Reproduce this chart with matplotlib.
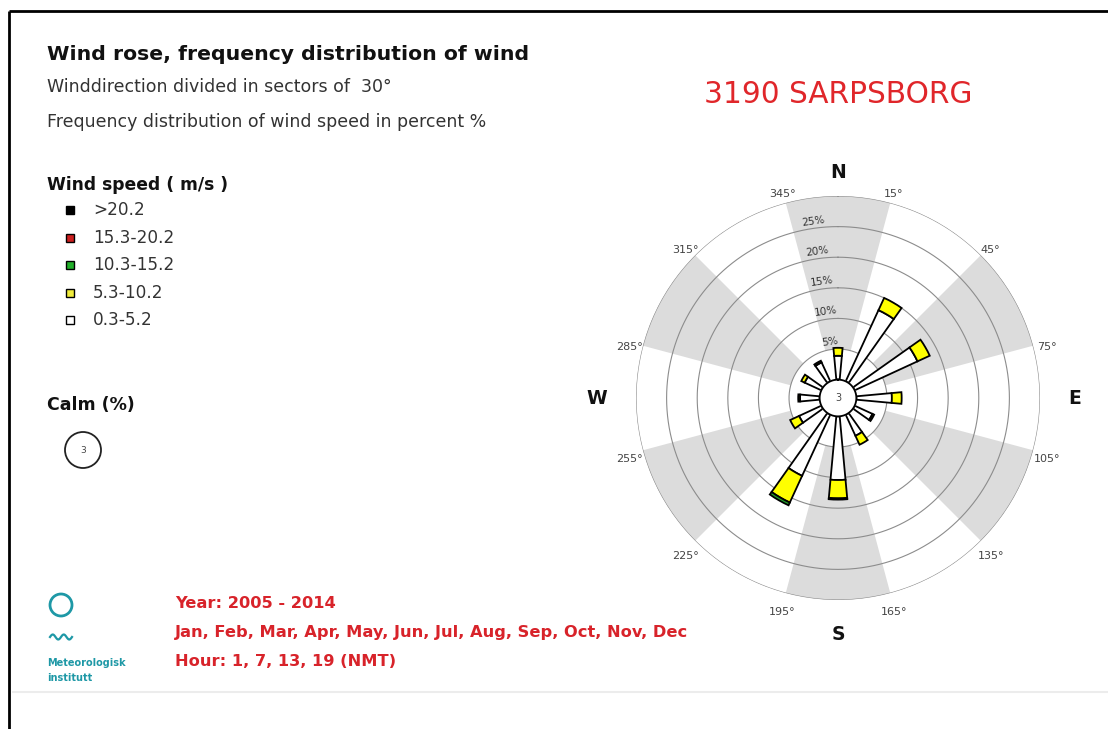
import numpy as np
import matplotlib
matplotlib.use("Agg")
import matplotlib.pyplot as plt
from matplotlib.patches import Circle, Rectangle

# wind rose data (percent), sectors of 30 degrees
directions = [0, 30, 60, 90, 120, 150, 180, 210, 240, 270, 300, 330]
speed_0_5 = [3.9, 12.8, 11.3, 5.8, 3.2, 3.8, 10.4, 11.0, 4.0, 3.2, 3.0, 3.4]
speed_5_10 = [1.3, 2.2, 2.2, 1.6, 0.3, 1.6, 3.0, 4.8, 1.6, 0.3, 0.6, 0.3]
speed_10_15 = [0, 0, 0, 0, 0, 0, 0.2, 0.5, 0, 0, 0, 0]
speed_15_20 = [0] * 12
speed_20 = [0] * 12
calm = 3

classes = [">20.2", "15.3-20.2", "10.3-15.2", "5.3-10.2", "0.3-5.2"]
class_colors = ["#000000", "#cc1f1f", "#22b02a", "#f0ec3c", "#ffffff"]
bar_colors = ["#ffffff", "#ffff00", "#22a02a", "#cc1f1f", "#000000"]
rings = [5, 10, 15, 20, 25]
rmax = 30
boundaries = [15, 45, 75, 105, 135, 165, 195, 225, 255, 285, 315, 345]
compass = ["N", "E", "S", "W"]
compass_r = [36.9, 38.7, 38.6, 39.4]

W, H = 1108, 729
fig = plt.figure(figsize=(W / 100, H / 100), dpi=100)
fig.patch.set_facecolor("white")

# full-figure canvas in pixel coordinates for texts and decorations
cv = fig.add_axes([0, 0, 1, 1])
cv.set_xlim(0, W)
cv.set_ylim(H, 0)
cv.axis("off")

cv.plot([9, W], [11, 11], color="black", lw=2, solid_capstyle="butt")
cv.plot([9, 9], [11, H], color="black", lw=2, solid_capstyle="butt")
cv.plot([13, W], [692, 692], color="#ececec", lw=1.5)

cv.text(47, 60, "Wind rose, frequency distribution of wind", fontsize=14.7,
        fontweight="bold", color="#111111")
cv.text(47, 92, "Winddirection divided in sectors of  30°", fontsize=12.5,
        color="#333333")
cv.text(47, 127, "Frequency distribution of wind speed in percent %",
        fontsize=12.5, color="#333333")
cv.text(704, 103, "3190 SARPSBORG", fontsize=21.3, color="#e0262a")

cv.text(47, 190, "Wind speed ( m/s )", fontsize=12.3, fontweight="bold",
        color="#111111")
for i, (lab, col) in enumerate(zip(classes, class_colors)):
    y = 210 + i * 27.5
    cv.add_patch(Rectangle((66, y - 4), 8, 8, facecolor=col,
                           edgecolor="black", lw=1))
    cv.text(93, y, lab, fontsize=12.2, color="#333333", va="center")

cv.text(47, 410, "Calm (%)", fontsize=12.5, fontweight="bold", color="#111111")
cv.add_patch(Circle((83, 450), 18, facecolor="white", edgecolor="#222222", lw=1.3))
cv.text(83, 450, str(calm), fontsize=6.5, color="#444444", ha="center", va="center")

# logo
teal = "#1e98a6"
cv.add_patch(Circle((61, 605), 11, facecolor="none", edgecolor=teal, lw=2))
wx = np.linspace(50, 72, 40)
cv.plot(wx, 637 - 2.5 * np.sin((wx - 50) / 22 * 4 * np.pi), color=teal, lw=1.6)
cv.text(47, 663, "Meteorologisk", fontsize=7, fontweight="bold", color=teal, va="center")
cv.text(47, 678, "institutt", fontsize=7, fontweight="bold", color=teal, va="center")

red_font = dict(fontsize=11.7, fontweight="bold", color="#d8232a", va="center")
cv.text(175, 603, "Year: 2005 - 2014", **red_font)
cv.text(175, 632, "Jan, Feb, Mar, Apr, May, Jun, Jul, Aug, Sep, Oct, Nov, Dec", **red_font)
cv.text(175, 661, "Hour: 1, 7, 13, 19 (NMT)", **red_font)

# polar rose, radius offset by the calm value
cx, cy, R = 838, 398, 202
ax = fig.add_axes([(cx - R) / W, (H - cy - R) / H, 2 * R / W, 2 * R / H],
                  projection="polar")
ax.set_theta_zero_location("N")
ax.set_theta_direction(-1)
ax.set_ylim(0, rmax + calm)
ax.set_xticks([])
ax.set_yticks([])
ax.grid(False)
ax.spines["polar"].set_visible(False)
ax.patch.set_alpha(0)

sec = np.radians(np.arange(0, 360, 60))
ax.bar(sec, rmax - 5, width=np.radians(30), bottom=calm + 5,
       color="#dcdcdc", lw=0, zorder=0.5)
circ = np.linspace(0, 2 * np.pi, 361)
for r in rings + [rmax]:
    ax.plot(circ, np.full_like(circ, r + calm), color="#8c8c8c", lw=0.8, zorder=1)

theta = np.radians(directions)
bottom = np.full(12, float(calm))
for vals, col in zip([speed_0_5, speed_5_10, speed_10_15, speed_15_20, speed_20],
                     bar_colors):
    vals = np.array(vals, dtype=float)
    m = vals > 0
    ax.bar(theta[m], vals[m], width=np.radians(10.5), bottom=bottom[m], color=col,
           edgecolor="black", lw=1.3, zorder=3)
    bottom += vals

ax.fill(circ, np.full_like(circ, calm), color="white", zorder=4)
ax.plot(circ, np.full_like(circ, calm), color="black", lw=1.3, zorder=5)
ax.text(0, 0, str(calm), fontsize=7, color="#444444", ha="center", va="center", zorder=6)

for r in rings:
    ax.text(np.radians(-8), r + calm + 1.2, f"{r}%", fontsize=7.5, color="#333333",
            ha="center", va="center", rotation=8, zorder=2)

# sector boundary labels, placed around the rose slightly below centre
for b in boundaries:
    a = np.radians(b)
    cv.text(cx + 216 * np.sin(a), cy + 5 - 216 * np.cos(a), f"{b}°", fontsize=8,
            color="#444444", ha="center", va="center")
for i, c in enumerate(compass):
    ax.text(np.radians(i * 90), compass_r[i], c, fontsize=13.5, fontweight="bold",
            color="#111111", ha="center", va="center", clip_on=False)

fig.savefig("out.png", dpi=100)
